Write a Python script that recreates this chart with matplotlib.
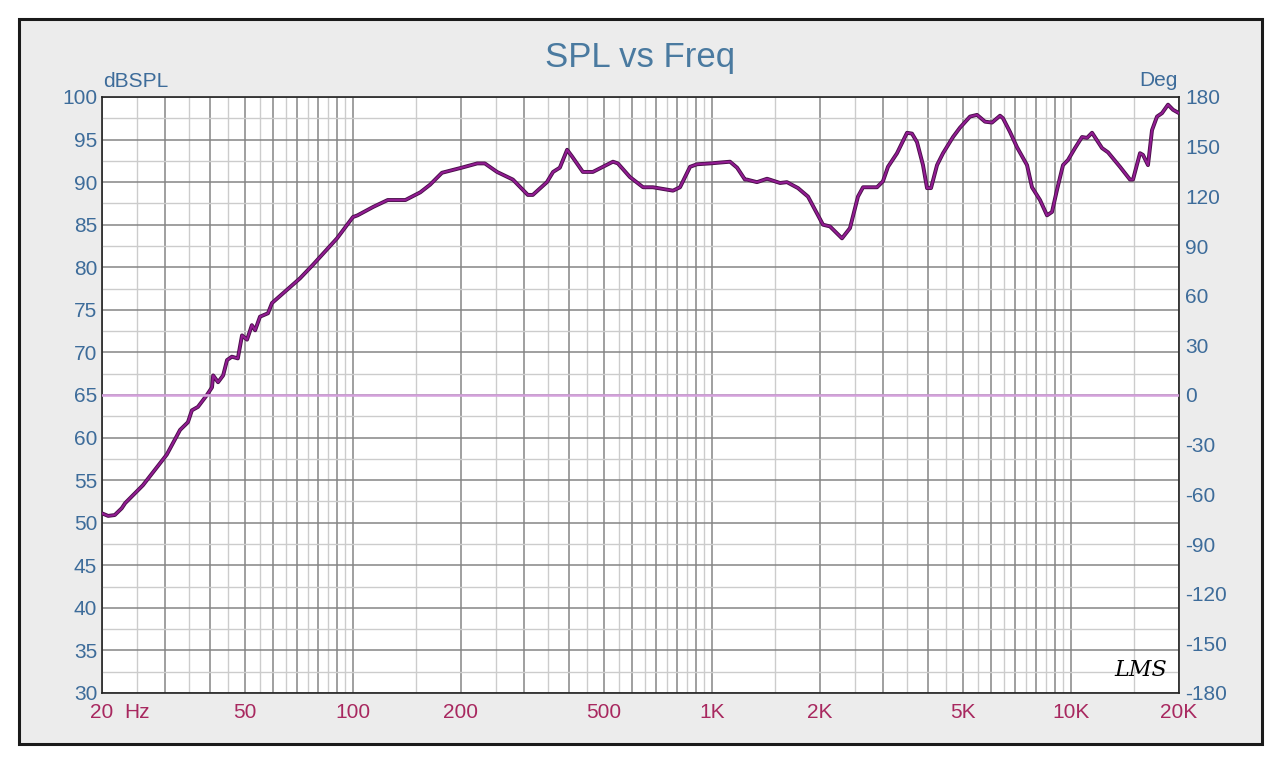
import numpy as np
import matplotlib
matplotlib.use("Agg")
import matplotlib.pyplot as plt
from matplotlib.patches import Rectangle

plt.rcParams['font.family'] = ['Liberation Sans', 'DejaVu Sans']
plt.rcParams['axes.unicode_minus'] = False

# SPL curve (Hz, dB SPL)
freq = [20.0, 20.8, 21.7, 22.7, 23.2, 26.0, 30.3, 33.0, 34.7, 35.6, 37.0, 39.2,
        40.5, 40.8, 42.1, 43.5, 44.6, 46.0, 47.8, 49.1, 50.7, 52.3, 53.4, 55.1,
        58.0, 59.5, 71.2, 77.4, 90.3, 100, 103, 114, 125, 140, 154, 164, 177,
        201, 222, 233, 252, 279, 307, 317, 347, 361, 377, 395, 408, 437, 466,
        530, 547, 591, 643, 685, 779, 815, 869, 909, 988, 1123, 1175, 1236,
        1252, 1335, 1424, 1548, 1618, 1737, 1852, 2039, 2132, 2303, 2424, 2551,
        2636, 2883, 2995, 3093, 3278, 3495, 3608, 3726, 3872, 3973, 4076, 4237,
        4403, 4694, 4909, 5234, 5475, 5764, 6028, 6346, 6468, 6765, 7076, 7546,
        7790, 8201, 8578, 8857, 9146, 9505, 9813, 10265, 10738, 11088, 11450,
        12208, 12686, 13699, 14606, 14890, 15574, 15876, 16392, 16820, 17368,
        17932, 18640, 19246, 20000]
spl = [51.1, 50.8, 50.9, 51.7, 52.3, 54.4, 58.0, 60.9, 61.8, 63.2, 63.6, 65.0,
       65.9, 67.3, 66.5, 67.3, 69.1, 69.5, 69.3, 72.0, 71.5, 73.2, 72.6, 74.2,
       74.6, 75.8, 78.7, 80.3, 83.4, 85.9, 86.1, 87.1, 87.9, 87.9, 88.8, 89.7, 91.1,
       91.7, 92.2, 92.2, 91.2, 90.3, 88.5, 88.5, 90.0, 91.2, 91.7, 93.8, 93.0, 91.2, 91.2,
       92.4, 92.2, 90.6, 89.4, 89.4, 89.0, 89.4, 91.8, 92.1, 92.2, 92.4, 91.7, 90.3,
       90.3, 90.0, 90.4, 89.9, 90.0, 89.3, 88.3, 85.0, 84.8, 83.4, 84.6, 88.3,
       89.4, 89.4, 90.1, 91.8, 93.4, 95.8, 95.7, 94.7, 92.0, 89.3, 89.3, 92.0,
       93.4, 95.3, 96.4, 97.7, 97.9, 97.1, 97.0, 97.8, 97.5, 95.9, 94.1, 92.0,
       89.4, 87.9, 86.1, 86.5, 89.1, 92.0, 92.6, 94.0, 95.3, 95.2, 95.8,
       94.0, 93.5, 91.8, 90.3, 90.3, 93.4, 93.2, 92.0, 96.1, 97.7,
       98.1, 99.1, 98.5, 98.1]

# phase trace (flat)
phase_freq = [20, 20000]
phase_deg = [0, 0]

xtick_vals = [20, 50, 100, 200, 500, 1000, 2000, 5000, 10000, 20000]
xtick_labels = ['20', '50', '100', '200', '500', '1K', '2K', '5K', '10K', '20K']

blue = '#3d6c9a'
red = '#a8285f'

fig = plt.figure(figsize=(12.8, 7.61), dpi=100)
fig.patches.append(Rectangle((19 / 1280, 1 - 744 / 761), (1262 - 19) / 1280, (744 - 19) / 761,
                             transform=fig.transFigure, facecolor='#ececec',
                             edgecolor='#1a1a1a', linewidth=2.2, zorder=-10))

ax = fig.add_axes([102 / 1280, 1 - 693 / 761, (1179 - 102) / 1280, (693 - 97) / 761])
ax.set_facecolor('white')
ax.set_xscale('log')
ax.set_xlim(20, 20000)
ax.set_ylim(30, 100)

# grid: dark at 1..9 per decade, light halfway between
dark = [m * 10 ** d for d in range(1, 5) for m in range(1, 10) if 20 <= m * 10 ** d <= 20000]
light = [(m + 0.5) * 10 ** d for d in range(1, 5) for m in range(1, 10) if 20 < (m + 0.5) * 10 ** d < 20000]
ax.set_xticks(dark)
ax.set_xticklabels([xtick_labels[xtick_vals.index(v)] if v in xtick_vals else '' for v in dark])
ax.set_xticks(light, minor=True)
ax.xaxis.set_minor_formatter(plt.NullFormatter())
ax.set_yticks(np.arange(30, 101, 5))
ax.set_yticks(np.arange(32.5, 100, 5), minor=True)
ax.grid(which='major', color='#858585', linewidth=1.1)
ax.grid(which='minor', color='#cccccc', linewidth=1.0)
ax.set_axisbelow(True)
ax.tick_params(which='both', length=0)
ax.tick_params(axis='x', pad=7, labelsize=15, labelcolor=red)
ax.tick_params(axis='y', pad=3.5, labelsize=15, labelcolor=blue)
for s in ax.spines.values():
    s.set_color('#222222')
    s.set_linewidth(1.2)

ax.plot(freq, spl, color='#4a0f4a', linewidth=2.8, solid_joinstyle='round', zorder=3)
ax.plot(freq, spl, color='#921c92', linewidth=1.5, solid_joinstyle='round', zorder=4)

ax2 = ax.twinx()
ax2.set_ylim(-180, 180)
ax2.set_yticks(np.arange(-180, 181, 30))
ax2.tick_params(length=0, pad=4.5, labelsize=15, labelcolor=blue)
ax2.plot(phase_freq, phase_deg, color='#d4a0dc', linewidth=1.8)
for s in ax2.spines.values():
    s.set_visible(False)

fig.text(640 / 1280, 1 - 57 / 761, 'SPL vs Freq', ha='center', va='center', fontsize=25, color='#4a7aa0')
fig.text(103 / 1280, 1 - 87 / 761, 'dBSPL', ha='left', va='baseline', fontsize=15, color=blue)
fig.text(1178 / 1280, 1 - 86 / 761, 'Deg', ha='right', va='baseline', fontsize=15, color=blue)
fig.text(124 / 1280, 1 - 712 / 761, 'Hz', ha='left', va='center', fontsize=15, color=red)
fig.text(1141 / 1280, 1 - 670 / 761, 'LMS', ha='center', va='center', fontsize=16,
         style='italic', color='black', family='DejaVu Serif')

fig.savefig('out.png', dpi=100)
